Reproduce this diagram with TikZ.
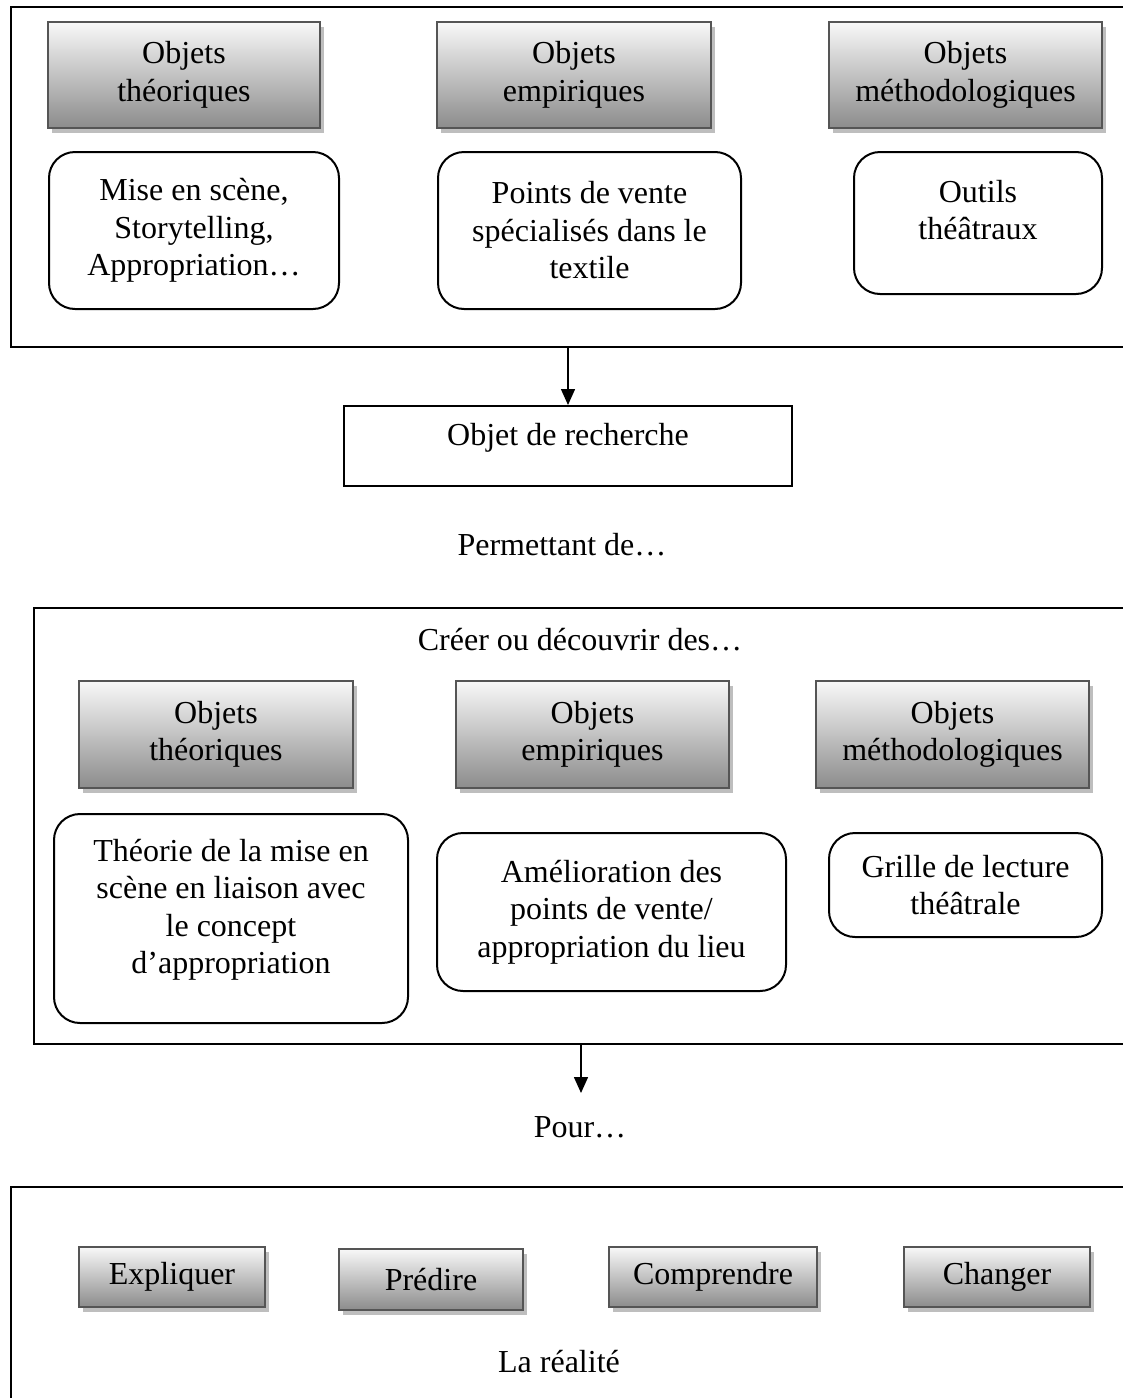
\documentclass[tikz,border=0pt]{standalone}
\usepackage{fontspec}
\setmainfont{Liberation Serif}
\usetikzlibrary{shadows,arrows.meta}
\definecolor{boxedge}{RGB}{85,85,85}
\definecolor{shadetop}{RGB}{248,248,248}
\definecolor{shadebot}{RGB}{140,140,140}
\definecolor{shadowgray}{RGB}{190,190,190}
\begin{document}
\begin{tikzpicture}[x=0.5pt,y=-0.5pt,
  every node/.style={font=\fontsize{16}{18.75}\selectfont, align=center, inner sep=0pt},
  frame/.style={draw, line width=1.1pt},
  graybox/.style={draw=boxedge, line width=1.2pt, top color=shadetop, bottom color=shadebot,
    drop shadow={shadow xshift=2pt, shadow yshift=-2.5pt, fill=shadowgray, opacity=1}},
  roundbox/.style={draw, line width=1pt, rounded corners=13pt},
  plainbox/.style={draw, line width=1pt},
  arr/.style={line width=0.75pt, -{Triangle[length=8pt,width=7pt]}}]
\useasboundingbox (0,0) rectangle (1123,1398);
\fill[white] (0,0) rectangle (1123,1398);
\clip (0,0) rectangle (1123,1398);

% ---------- top frame ----------
\node[frame, minimum width=564.65pt, minimum height=169.7pt] (F1) at (575.35,177) {};
\node[graybox, minimum width=136pt, minimum height=53pt] (T1) at (184,75) {Objets\\théoriques};
\node[graybox, minimum width=137pt, minimum height=53pt] (T2) at (574,75) {Objets\\empiriques};
\node[graybox, minimum width=136.5pt, minimum height=53pt] (T3) at (965.5,75) {Objets\\méthodologiques};
\node[roundbox, minimum width=145pt, minimum height=78.5pt] (R1) at (194,230.5) {Mise en scène,\\Storytelling,\\Appropriation…};
\node[roundbox, minimum width=151.5pt, minimum height=78.5pt] (R2) at (589.5,230.5) {Points de vente\\spécialisés dans le\\textile};
\node[roundbox, minimum width=124pt, minimum height=71pt] (R3) at (978,223) {};
\node (R3t) at (978,210) {Outils\\théâtraux};

% ---------- objet de recherche ----------
\node[plainbox, minimum width=224pt, minimum height=40pt] (rech) at (568,446) {};
\node (recht) at (568,438) {Objet de recherche};
\draw[arr] (F1.south -| rech.north) -- (rech.north);
\node (perm) at (562,545) {Permettant de…};

% ---------- middle frame ----------
\node[frame, minimum width=553pt, minimum height=218pt] (F2) at (587,826) {};
\node (creer) at (580,640) {Créer ou découvrir des…};
\node[graybox, minimum width=137pt, minimum height=53.5pt] (M1) at (216,734.5) {Objets\\théoriques};
\node[graybox, minimum width=136.5pt, minimum height=53.5pt] (M2) at (592.5,734.5) {Objets\\empiriques};
\node[graybox, minimum width=136.5pt, minimum height=53.5pt] (M3) at (952.5,734.5) {Objets\\méthodologiques};
\node[roundbox, minimum width=177pt, minimum height=104.5pt] (MR1) at (231,918.5) {};
\node (MR1t) at (231,910) {Théorie de la mise en\\scène en liaison avec\\le concept\\d’appropriation};
\node[roundbox, minimum width=174.5pt, minimum height=79pt] (MR2) at (611.5,912) {Amélioration des\\points de vente/\\appropriation du lieu};
\node[roundbox, minimum width=136.5pt, minimum height=52pt] (MR3) at (965.5,885) {Grille de lecture\\théâtrale};

% ---------- pour ----------
\coordinate (tip2) at (581,1093);
\draw[arr] (F2.south -| tip2) -- (tip2);
\node (pour) at (580,1127) {Pour…};

% ---------- bottom frame ----------
\node[frame, minimum width=564.5pt, minimum height=116.5pt] (F3) at (575.5,1303.5) {};
\node[graybox, minimum width=93pt, minimum height=30pt] (B1) at (172,1277) {Expliquer};
\node[graybox, minimum width=92pt, minimum height=30.5pt] (B2) at (431,1279.5) {Prédire};
\node[graybox, minimum width=104pt, minimum height=30pt] (B3) at (713,1277) {Comprendre};
\node[graybox, minimum width=93pt, minimum height=30pt] (B4) at (997,1277) {Changer};
\node (real) at (559,1362) {La réalité};
\end{tikzpicture}
\end{document}
